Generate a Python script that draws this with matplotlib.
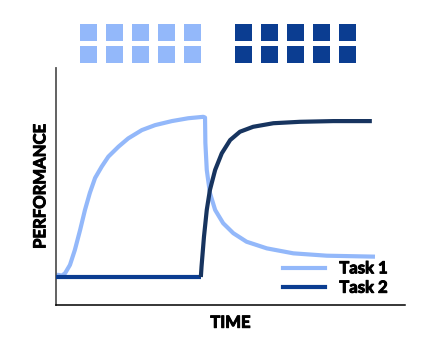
import matplotlib
matplotlib.use("Agg")
import matplotlib.pyplot as plt
import matplotlib.patheffects as pe
from matplotlib.lines import Line2D
from matplotlib.patches import Rectangle

# values (time 0-100, performance 0-100)
task1_time = [0, 0.7, 1.7, 2.6, 4.0, 5.4, 6.9, 8.3, 9.7, 11.2, 13.1, 15.0, 17.9, 20.7,
              24.6, 28.4, 33.2, 37.9, 42.2, 42.7, 42.8, 43.2, 44.1, 45.6, 47.9, 50.8,
              54.6, 60.4, 68.0, 77.6, 91.4]
task1_perf = [12.7, 12.7, 12.4, 13.4, 16.9, 23.2, 31.6, 40.1, 47.3, 53.6, 58.4, 62.6, 66.8, 70.3,
              73.8, 75.9, 77.6, 78.8, 79.4, 79.1, 68.4, 57.0, 47.3, 40.1, 34.5, 30.3,
              26.7, 23.9, 21.8, 20.8, 20.4]

task2_time = [0, 41.5, 41.7, 42.4, 43.2, 44.1, 45.6, 47.5, 49.9, 52.7, 56.5, 62.3, 69.9, 79.5, 90.5]
task2_perf = [11.8, 11.8, 16.2, 28.8, 40.1, 48.5, 57.0, 64.0, 69.6, 73.1, 75.2, 76.7, 77.3, 77.6, 77.6]

labels = ["Task 1", "Task 2"]
light = "#93b8fa"
dark = "#0b3d91"
dark_curve = "#17345f"

# icon grid: 5 columns x 2 rows per task
icon_cols_1 = [0, 1, 2, 3, 4]
icon_cols_2 = [6, 7, 8, 9, 10]
icon_rows = [0, 1]

W, H = 423, 348
fig = plt.figure(figsize=(W / 100, H / 100), dpi=100)
plt.rcParams['font.family'] = ['Lato', 'DejaVu Sans']
heavy = [pe.withStroke(linewidth=0.7, foreground='black')]

ax = fig.add_axes([56 / W, (H - 305) / H, (405 - 56) / W, (305 - 68) / H])
ax.plot(task1_time, task1_perf, color=light, lw=3, solid_capstyle='butt',
        solid_joinstyle='round', zorder=2)
ax.plot(task2_time[:2], task2_perf[:2], color=dark, lw=3, solid_capstyle='butt', zorder=3)
ax.plot(task2_time[1:], task2_perf[1:], color=dark_curve, lw=3, solid_capstyle='butt',
        solid_joinstyle='round', zorder=3)
ax.set_xlim(0, 100)
ax.set_ylim(0, 100)
ax.set_xticks([])
ax.set_yticks([])
for side in ['top', 'right']:
    ax.spines[side].set_visible(False)
ax.spines['left'].set_color('#555555')
ax.spines['left'].set_linewidth(1.3)
ax.spines['bottom'].set_linewidth(1.1)

xl = ax.set_xlabel('TIME', fontsize=12, fontweight='bold', labelpad=7)
yl = ax.set_ylabel('PERFORMANCE', fontsize=12, fontweight='bold', labelpad=5.5)
xl.set_path_effects(heavy)
yl.set_path_effects(heavy)

handles = [Line2D([], [], color=light, lw=3), Line2D([], [], color=dark, lw=3)]
leg = ax.legend(handles, labels, loc='lower right', bbox_to_anchor=(0.983, -0.01),
                frameon=False, fontsize=12, handlelength=2.5, handletextpad=0.85,
                labelspacing=0.2, borderaxespad=0.3)
for t in leg.get_texts():
    t.set_fontweight('bold')
    t.set_path_effects(heavy)

# header icons
hx = fig.add_axes([80 / W, (H - 63) / H, (356 - 80) / W, (63 - 24) / H])
hx.set_xlim(0, 276)
hx.set_ylim(39, 0)
hx.axis('off')
for cols, color in [(icon_cols_1, light), (icon_cols_2, dark)]:
    for c in cols:
        for r in icon_rows:
            hx.add_patch(Rectangle((c * 25.9, r * 22.3), 17, 16.7, color=color, lw=0))

fig.savefig('out.png', dpi=100)
